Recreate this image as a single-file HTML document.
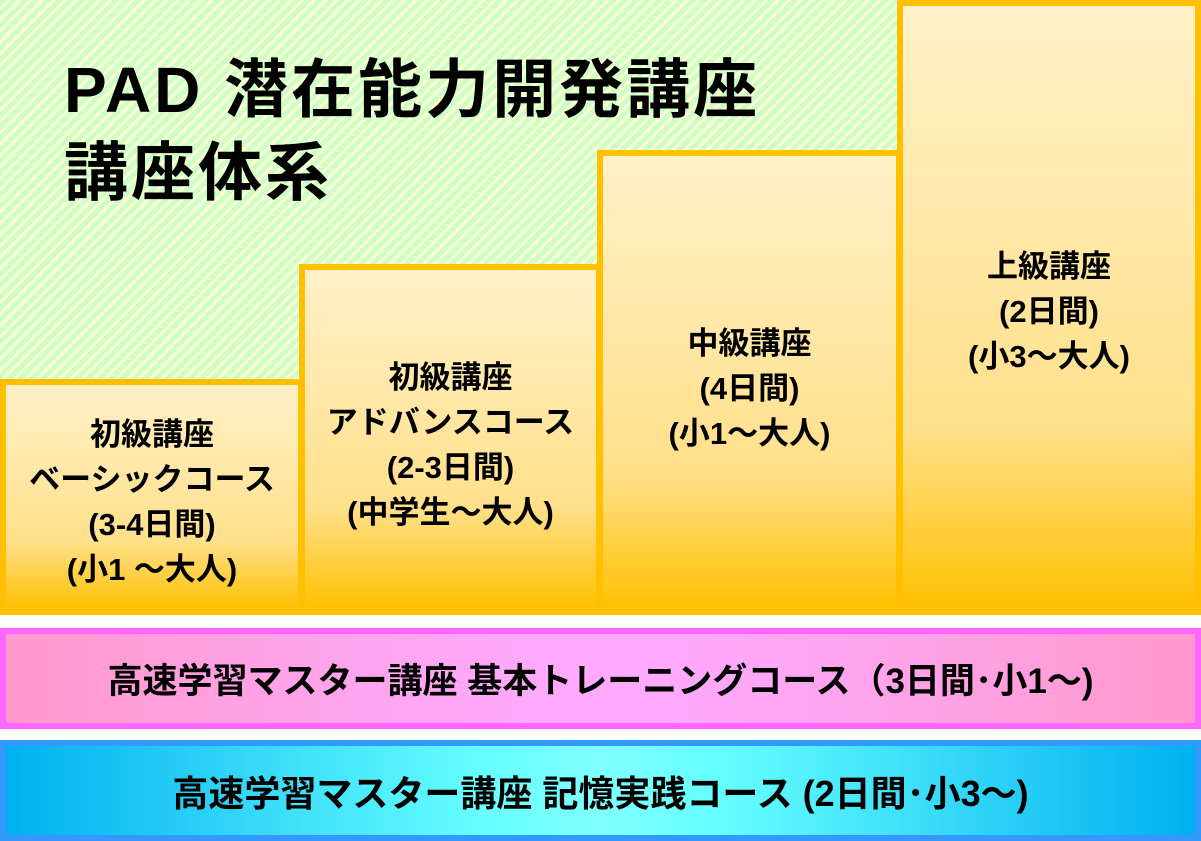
<!DOCTYPE html>
<html><head><meta charset="utf-8"><style>
body{margin:0;width:1201px;height:841px;position:relative;overflow:hidden;background:#fff;font-family:"Liberation Sans","Noto Sans CJK JP",sans-serif;font-weight:bold;color:#000}
.bg{position:absolute;left:0;top:0;width:900px;height:385px;background:repeating-linear-gradient(-45deg,#CCFFCC 0 5px,#FFFFCC 5px 8px)}
.t{position:absolute;left:64px;font-size:64px;line-height:70px;white-space:nowrap;letter-spacing:3px}
.box{position:absolute;box-sizing:border-box;border:6px solid #FFC000;background:linear-gradient(#FFF0C8,#FFE08A 70%,#FFC000);display:flex;justify-content:center;font-size:31px;line-height:45px;text-align:center;white-space:nowrap}
.bar{position:absolute;left:0;width:1201px;box-sizing:border-box;border:6px solid;display:flex;align-items:center;justify-content:center;font-size:35px}
</style></head><body>
<div class="bg"></div>
<div class="t" style="top:55px">PAD 潜在能力開発講座</div>
<div class="t" style="top:138px">講座体系</div>
<div class="box" style="left:0;top:379px;width:304px;height:236px;padding-top:27px">初級講座<br>ベーシックコース<br>(3-4日間)<br>(小1 ～大人)</div>
<div class="box" style="left:299px;top:264px;width:303px;height:351px;padding-top:85px">初級講座<br>アドバンスコース<br>(2-3日間)<br>(中学生～大人)</div>
<div class="box" style="left:597px;top:150px;width:305px;height:465px;padding-top:165px">中級講座<br>(4日間)<br>(小1～大人)</div>
<div class="box" style="left:897px;top:0;width:304px;height:615px;padding-top:238px">上級講座<br>(2日間)<br>(小3～大人)</div>
<div class="bar" style="top:628px;height:101px;border-color:#FF66FF;background:linear-gradient(90deg,#FF99CC,#FFAAFF 45%,#FFAAFF 55%,#FF99CC)">高速学習マスター講座 基本トレーニングコース（3日間･小1～)</div>
<div class="bar" style="top:740px;height:101px;border-color:#3399FF;background:linear-gradient(90deg,#00B0F0,#66FFFF 40%,#80FFFF 50%,#66FFFF 60%,#00B0F0);font-size:36px">高速学習マスター講座 記憶実践コース (2日間･小3～)</div>
</body></html>
